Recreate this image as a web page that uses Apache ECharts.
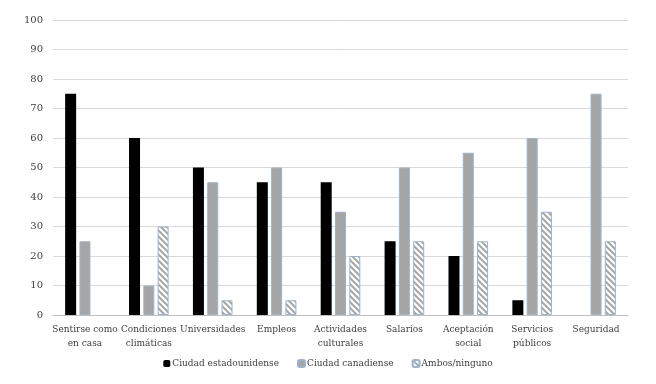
<!DOCTYPE html>
<html>
<head>
<meta charset="utf-8">
<script src="https://cdn.jsdelivr.net/npm/echarts@6/dist/echarts.min.js"></script>
<style>
  html, body { margin: 0; padding: 0; background: #fff; }
  #chart { width: 656px; height: 384px; }
</style>
</head>
<body>
<div id="chart"></div>
<script>
const categories = [
  'Sentirse como\nen casa', 'Condiciones\nclimáticas', 'Universidades', 'Empleos',
  'Actividades\nculturales', 'Salarios', 'Aceptación\nsocial', 'Servicios\npúblicos', 'Seguridad'
];
const usValues = [75, 60, 50, 45, 45, 25, 20, 5, 0];
const caValues = [25, 10, 45, 50, 35, 50, 55, 60, 75];
const bothValues = [0, 30, 5, 5, 20, 25, 25, 35, 25];

// zero bars are not drawn in the original
const noZero = arr => arr.map(v => (v === 0 ? '-' : v));

// diagonal hatch for "Ambos/ninguno"
function hatch() {
  const c = document.createElement('canvas');
  c.width = 6; c.height = 6;
  const ctx = c.getContext('2d');
  ctx.fillStyle = '#fff';
  ctx.fillRect(0, 0, 6, 6);
  ctx.strokeStyle = '#a6a6a6';
  ctx.lineWidth = 2;
  ctx.beginPath();
  ctx.moveTo(-1, -1); ctx.lineTo(7, 7);
  ctx.moveTo(-4, 2); ctx.lineTo(2, 8);
  ctx.moveTo(2, -4); ctx.lineTo(8, 2);
  ctx.stroke();
  return c;
}

const chart = echarts.init(document.getElementById('chart'));
const font = "'DejaVu Serif', serif";

chart.setOption({
  animation: false,
  textStyle: { fontFamily: font },
  grid: { left: 53, right: 28, top: 20, bottom: 69 },
  legend: {
    bottom: 11,
    left: 'center',
    itemWidth: 7,
    itemHeight: 7,
    itemGap: 18,
    textStyle: { fontFamily: font, fontSize: 9, color: '#404040', padding: [0, 0, 0, -3] },
    data: ['Ciudad estadounidense', 'Ciudad canadiense', 'Ambos/ninguno']
  },
  xAxis: {
    type: 'category',
    data: categories,
    axisLine: { lineStyle: { color: '#bfbfbf' } },
    axisTick: { show: false },
    axisLabel: { color: '#404040', fontSize: 9, fontFamily: font, lineHeight: 14, margin: 8, interval: 0 }
  },
  yAxis: {
    type: 'value',
    min: 0, max: 100, interval: 10,
    axisLine: { show: false },
    axisTick: { show: false },
    axisLabel: { color: '#404040', fontSize: 10, fontFamily: font, margin: 10 },
    splitLine: { lineStyle: { color: '#d9d9d9' } }
  },
  series: [
    {
      name: 'Ciudad estadounidense', type: 'bar', data: noZero(usValues),
      barWidth: 11, barGap: '30%',
      itemStyle: { color: '#000' }
    },
    {
      name: 'Ciudad canadiense', type: 'bar', data: noZero(caValues),
      barWidth: 11, barGap: '30%',
      itemStyle: { color: '#a5a5a5', borderColor: '#9db3cc', borderWidth: 1 }
    },
    {
      name: 'Ambos/ninguno', type: 'bar', data: noZero(bothValues),
      barWidth: 11, barGap: '30%',
      itemStyle: { color: { image: hatch(), repeat: 'repeat' }, borderColor: '#9db3cc', borderWidth: 1 }
    }
  ]
});
</script>
</body>
</html>
